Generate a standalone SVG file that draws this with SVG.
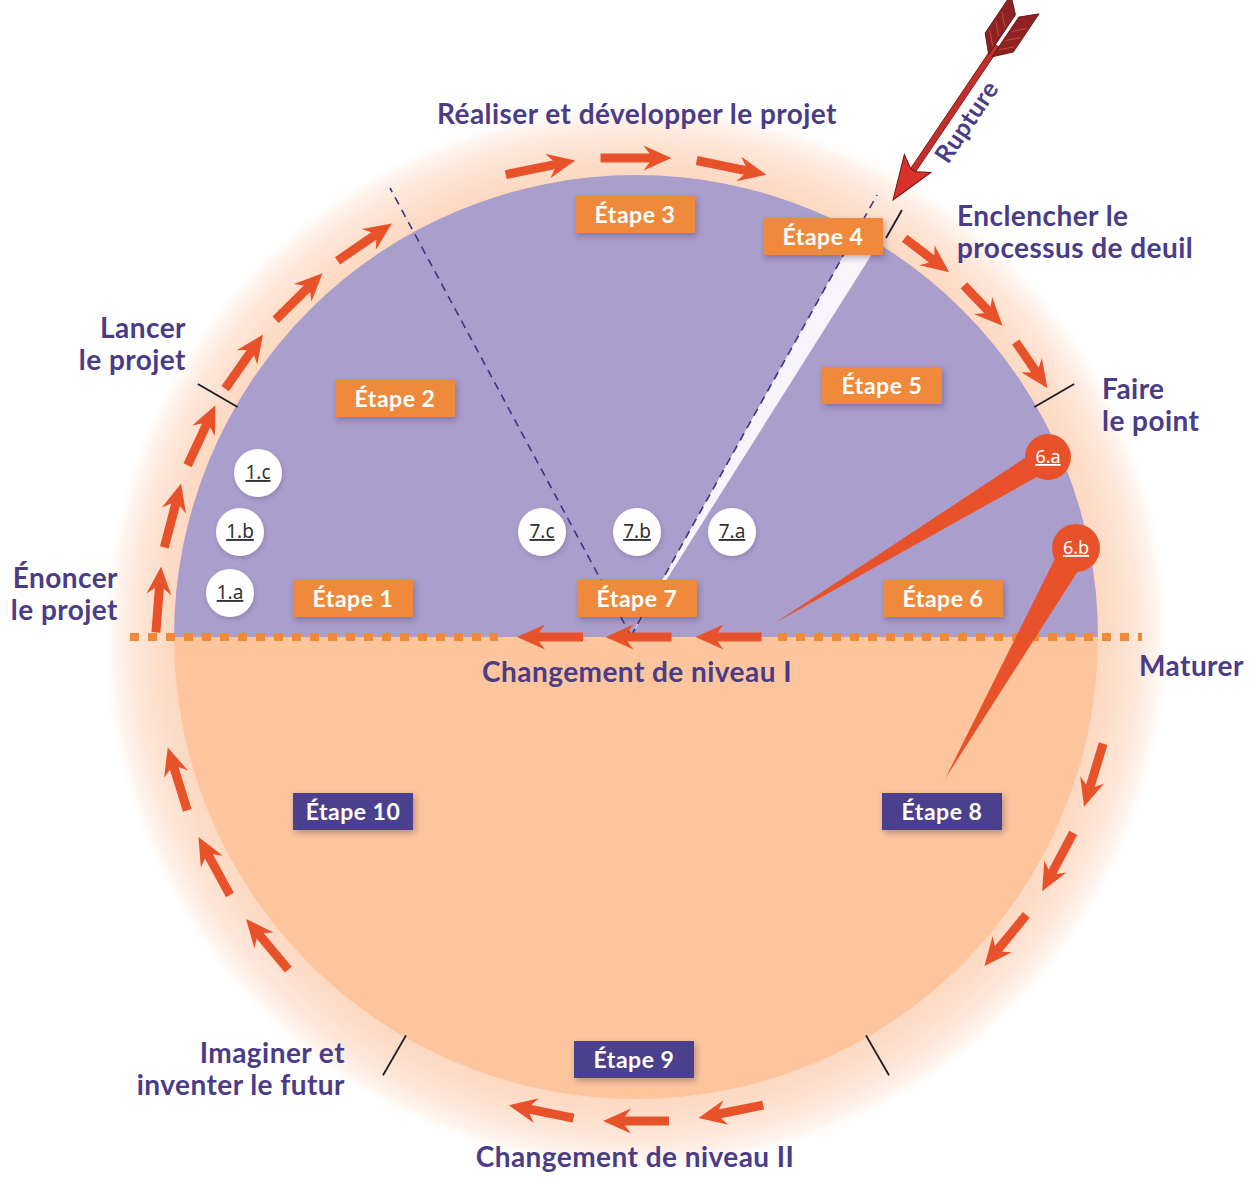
<svg xmlns="http://www.w3.org/2000/svg" xmlns:xlink="http://www.w3.org/1999/xlink" width="1250" height="1178" viewBox="0 0 1250 1178">
<style>
.lbl{font-family:Lato,"Open Sans","DejaVu Sans",sans-serif;font-weight:700;font-size:28px;letter-spacing:0.45px;fill:#4a3c86}
.etxt{font-family:Lato,"Open Sans",sans-serif;font-weight:700;font-size:23px;letter-spacing:0.5px;fill:#ffffff;text-anchor:middle}
.ebo{fill:#ef8a3c}
.ebp{fill:#4c3f8e}
.wc{fill:#ffffff}
.ctxt{font-family:"Noto Sans","DejaVu Sans",sans-serif;font-size:19px;fill:#333333;text-anchor:middle;text-decoration:underline}
.ptxt{font-family:"Noto Sans","DejaVu Sans",sans-serif;font-size:18px;fill:#ffffff;text-anchor:middle;text-decoration:underline}
.arr{fill:#e8522b}
.pin{fill:#e8522b}
.tick{stroke:#1e1a22;stroke-width:1.8;fill:none}
.dash{stroke:#3d3580;stroke-width:1.6;stroke-dasharray:8 6;fill:none}
</style>
<defs>
<radialGradient id="halo" gradientUnits="userSpaceOnUse" cx="636" cy="637" r="535">
<stop offset="0.85" stop-color="#fcd6bd"/>
<stop offset="0.9" stop-color="#fddfcc"/>
<stop offset="0.94" stop-color="#fee8db"/>
<stop offset="0.975" stop-color="#fff5ef"/>
<stop offset="1" stop-color="#ffffff" stop-opacity="0"/>
</radialGradient>
<filter id="sh" x="-20%" y="-30%" width="150%" height="190%">
<feDropShadow dx="2" dy="3" stdDeviation="3" flood-color="#3a2a50" flood-opacity="0.35"/>
</filter>
<filter id="sh2" x="-30%" y="-30%" width="160%" height="160%">
<feDropShadow dx="1" dy="2" stdDeviation="2" flood-color="#3a2a50" flood-opacity="0.25"/>
</filter>
<path id="a66" class="arr" d="M-33,-4.5 L11,-4.5 L5,-12.5 L33,0 L5,12.5 L11,4.5 L-33,4.5 Z"/>
<path id="a71" class="arr" d="M-35.5,-4.5 L13.5,-4.5 L7.5,-12.5 L35.5,0 L7.5,12.5 L13.5,4.5 L-35.5,4.5 Z"/>
<path id="a56" class="arr" d="M-28,-4.5 L6,-4.5 L0,-12.5 L28,0 L0,12.5 L6,4.5 L-28,4.5 Z"/>
</defs>

<rect x="0" y="0" width="1250" height="1178" fill="#ffffff"/>

<g id="background">
<circle cx="636" cy="637" r="535" fill="url(#halo)"/>
<path d="M174,637 A462,462 0 0 1 1098,637 Z" fill="#aa9ecc"/>
<path d="M174,637 A462,462 0 0 0 1098,637 Z" fill="#fcc59d"/>
<polygon points="631,636 856,233 877,246" fill="#f7f5fb"/>
<line class="dash" x1="631" y1="636" x2="390" y2="188"/>
<line class="dash" x1="631" y1="636" x2="877" y2="195"/>
<line class="tick" x1="237.6" y1="407" x2="197.8" y2="384"/>
<line class="tick" x1="1034.4" y1="407" x2="1074.2" y2="384"/>
<line class="tick" x1="406" y1="1035.4" x2="383" y2="1075.2"/>
<line class="tick" x1="866" y1="1035.4" x2="889" y2="1075.2"/>
<line class="tick" x1="886" y1="238" x2="902" y2="210"/>
</g>

<g id="connectors">
<line x1="130" y1="637" x2="498" y2="637" stroke="#ef8a3c" stroke-width="8" stroke-dasharray="9 9"/>
<line x1="778" y1="637" x2="1142" y2="637" stroke="#ef8a3c" stroke-width="8" stroke-dasharray="9 9"/>
<use href="#a66" transform="translate(158.5,599.4) rotate(-85.5)"/>
<use href="#a66" transform="translate(172.7,515.4) rotate(-75.3)"/>
<use href="#a66" transform="translate(201.5,435.3) rotate(-65.1)"/>
<use href="#a66" transform="translate(244.1,361.6) rotate(-54.9)"/>
<use href="#a66" transform="translate(299.1,296.5) rotate(-44.7)"/>
<use href="#a66" transform="translate(364.7,242.2) rotate(-34.5)"/>
<use href="#a71" transform="translate(540.5,167.6) rotate(-11.5)"/>
<use href="#a71" transform="translate(636,158) rotate(0)"/>
<use href="#a71" transform="translate(731.5,167.6) rotate(11.5)"/>
<use href="#a56" transform="translate(926.9,255.2) rotate(37.3)"/>
<use href="#a56" transform="translate(983.2,305.6) rotate(46.3)"/>
<use href="#a56" transform="translate(1031.6,365.1) rotate(55.5)"/>
<use href="#a66" transform="translate(1093.6,775.2) rotate(106.8)"/>
<use href="#a66" transform="translate(1057.7,862.1) rotate(118.1)"/>
<use href="#a66" transform="translate(1005.4,940.4) rotate(129.4)"/>
<use href="#a66" transform="translate(730.8,1111.6) rotate(168.7)"/>
<use href="#a66" transform="translate(636,1121) rotate(180)"/>
<use href="#a66" transform="translate(541.2,1111.6) rotate(191.3)"/>
<use href="#a66" transform="translate(267.2,944.3) rotate(-129.8)"/>
<use href="#a66" transform="translate(214.2,866) rotate(-118.5)"/>
<use href="#a66" transform="translate(177.5,778.9) rotate(-107.2)"/>
<use href="#a66" transform="translate(550,637) rotate(180)"/>
<use href="#a66" transform="translate(638.5,637) rotate(180)"/>
<use href="#a66" transform="translate(728.5,637) rotate(180)"/>
</g>

<g id="pin-6a">
<polygon class="pin" points="1041.8,446.8 1054.2,467.2 775,623"/>
<circle class="pin" cx="1048" cy="457" r="23"/>
<text class="ptxt" x="1048" y="463">6.a</text>
</g>
<g id="pin-6b">
<polygon class="pin" points="1063.8,541.1 1088.2,554.9 945,779"/>
<circle class="pin" cx="1076" cy="548" r="24"/>
<text class="ptxt" x="1076" y="554">6.b</text>
</g>

<g id="etape-1"><rect class="ebo" x="293" y="580" width="120" height="37" filter="url(#sh)"/><text class="etxt" x="353" y="607">Étape 1</text></g>
<g id="etape-2"><rect class="ebo" x="335" y="380" width="120" height="37" filter="url(#sh)"/><text class="etxt" x="395" y="407">Étape 2</text></g>
<g id="etape-3"><rect class="ebo" x="575" y="196" width="120" height="37" filter="url(#sh)"/><text class="etxt" x="635" y="223">Étape 3</text></g>
<g id="etape-4"><rect class="ebo" x="763" y="218" width="120" height="37" filter="url(#sh)"/><text class="etxt" x="823" y="245">Étape 4</text></g>
<g id="etape-5"><rect class="ebo" x="822" y="367" width="120" height="37" filter="url(#sh)"/><text class="etxt" x="882" y="394">Étape 5</text></g>
<g id="etape-6"><rect class="ebo" x="883" y="580" width="120" height="37" filter="url(#sh)"/><text class="etxt" x="943" y="607">Étape 6</text></g>
<g id="etape-7"><rect class="ebo" x="577" y="580" width="120" height="37" filter="url(#sh)"/><text class="etxt" x="637" y="607">Étape 7</text></g>
<g id="etape-8"><rect class="ebp" x="882" y="793" width="120" height="37" filter="url(#sh)"/><text class="etxt" x="942" y="820">Étape 8</text></g>
<g id="etape-9"><rect class="ebp" x="574" y="1041" width="120" height="37" filter="url(#sh)"/><text class="etxt" x="634" y="1068">Étape 9</text></g>
<g id="etape-10"><rect class="ebp" x="293" y="793" width="120" height="37" filter="url(#sh)"/><text class="etxt" x="353" y="820">Étape 10</text></g>

<g id="c-1a"><circle class="wc" cx="230" cy="593" r="24" filter="url(#sh2)"/><text class="ctxt" x="230" y="599">1.a</text></g>
<g id="c-1b"><circle class="wc" cx="240" cy="532" r="24" filter="url(#sh2)"/><text class="ctxt" x="240" y="538">1.b</text></g>
<g id="c-1c"><circle class="wc" cx="258" cy="473" r="24" filter="url(#sh2)"/><text class="ctxt" x="258" y="479">1.c</text></g>
<g id="c-7c"><circle class="wc" cx="542" cy="532" r="24" filter="url(#sh2)"/><text class="ctxt" x="542" y="538">7.c</text></g>
<g id="c-7b"><circle class="wc" cx="637" cy="532" r="24" filter="url(#sh2)"/><text class="ctxt" x="637" y="538">7.b</text></g>
<g id="c-7a"><circle class="wc" cx="732" cy="532" r="24" filter="url(#sh2)"/><text class="ctxt" x="732" y="538">7.a</text></g>

<g id="labels">
<text class="lbl" x="637" y="124" text-anchor="middle">Réaliser et développer le projet</text>
<text class="lbl" x="957" y="226">Enclencher le</text>
<text class="lbl" x="957" y="258">processus de deuil</text>
<text class="lbl" x="186" y="338" text-anchor="end">Lancer</text>
<text class="lbl" x="186" y="370" text-anchor="end">le projet</text>
<text class="lbl" x="1102" y="399">Faire</text>
<text class="lbl" x="1102" y="431">le point</text>
<text class="lbl" x="118" y="588" text-anchor="end">Énoncer</text>
<text class="lbl" x="118" y="620" text-anchor="end">le projet</text>
<text class="lbl" x="1139" y="676">Maturer</text>
<text class="lbl" x="637" y="682" text-anchor="middle">Changement de niveau I</text>
<text class="lbl" x="345" y="1063" text-anchor="end">Imaginer et</text>
<text class="lbl" x="345" y="1095" text-anchor="end">inventer le futur</text>
<text class="lbl" x="635" y="1167" text-anchor="middle">Changement de niveau II</text>
</g>

<g id="rupture" transform="translate(893,200) rotate(-56)">
<rect x="36" y="-3" width="150" height="6" fill="#c62d2a" stroke="#6b1515" stroke-width="0.8"/>
<path d="M0,0 L44,-16 L36,-3 L36,3 L44,16 Z" fill="#d9302c" stroke="#6b1515" stroke-width="1"/>
<path d="M174,-2 L190,-17 L236,-17 L222,-2 Z" fill="#8e2222" stroke="#5a1212" stroke-width="0.8"/>
<path d="M174,2 L190,17 L236,17 L222,2 Z" fill="#8e2222" stroke="#5a1212" stroke-width="0.8"/>
<path d="M184,-4 L195,-15 M195,-4 L206,-15 M206,-4 L217,-15 M184,4 L195,15 M195,4 L206,15 M206,4 L217,15" stroke="#c44a3a" stroke-width="1" fill="none"/>
<text class="lbl" x="106" y="26" text-anchor="middle" style="font-size:25px">Rupture</text>
</g>
</svg>
